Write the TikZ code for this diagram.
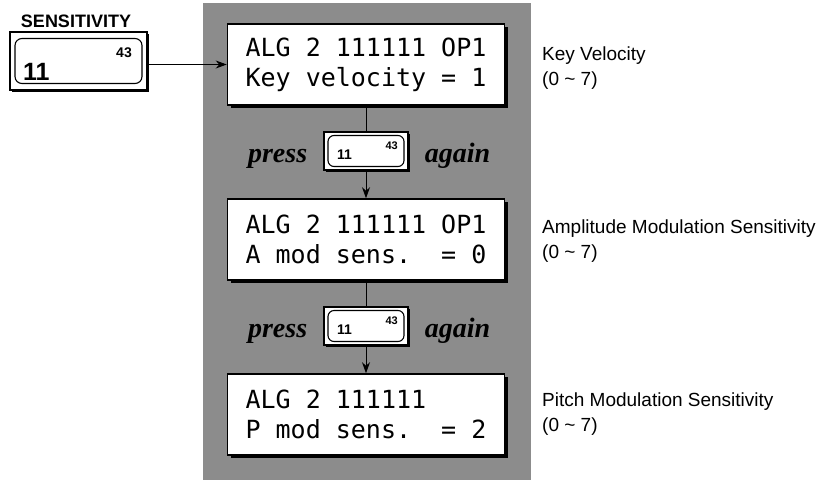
\documentclass[tikz,border=0pt]{standalone}
\usepackage{fontspec}
\setmainfont{Liberation Sans}
\newfontfamily\lcdfont{DejaVu Sans Mono}
\newfontfamily\pressfont{Liberation Serif}
\usetikzlibrary{arrows.meta,shadows,positioning}

\tikzset{
  lcd/.style={draw, line width=1.6pt, fill=white, inner sep=0pt,
    minimum width=277pt, minimum height=81pt, align=left,
    font=\lcdfont\fontsize{25}{30}\selectfont,
    drop shadow={shadow xshift=3pt, shadow yshift=-3pt, opacity=1, fill=black}},
  keyouter/.style={draw, line width=1.3pt, fill=white, inner sep=0pt,
    drop shadow={shadow xshift=1.5pt, shadow yshift=-1.5pt, opacity=1, fill=black}},
  keyinner/.style={draw, line width=1.1pt, rounded corners=7pt, inner sep=0pt},
  pressword/.style={font=\pressfont\bfseries\itshape\fontsize{28}{30}\selectfont, inner sep=0pt},
  info/.style={font=\fontsize{19}{25}\selectfont, align=left, inner sep=0pt, anchor=north west},
  arr/.style={line width=0.9pt, -{Stealth[length=11pt,width=8pt]}}
}

\begin{document}
\begin{tikzpicture}[x=1pt,y=-1pt]
\useasboundingbox (0,0) rectangle (824,480);

% shaded panel
\fill[black!45] (203,3) rectangle (531,480);

% SENSITIVITY key
\node[font=\bfseries\fontsize{18}{20}\selectfont, inner sep=0pt] (senslabel) at (76,21.5) {SENSITIVITY};
\node[keyouter, minimum width=137pt, minimum height=58pt] (sens) at (78.5,61) {};
\node[keyinner, minimum width=127pt, minimum height=45pt] (sensin) at (sens) {};
\node[font=\bfseries\fontsize{14}{14}\selectfont, inner sep=0pt, anchor=east] (senshi) at ([xshift=53.5pt, yshift=8pt]sens.center) {43};
\node[font=\bfseries\fontsize{25}{25}\selectfont, inner sep=0pt, anchor=west] (senslo) at ([xshift=-55.5pt, yshift=-10.5pt]sens.center) {11};

% displays
\node[lcd] (kv) at (366,64.5) {ALG~2~111111~OP1\\Key~velocity~=~1};
\node[lcd] (am) at (366,239.5) {ALG~2~111111~OP1\\A~mod~sens.~~=~0};
\node[lcd] (pm) at (366,414.5) {ALG~2~111111\\P~mod~sens.~~=~2};

% press buttons
\node[keyouter, minimum width=84pt, minimum height=38pt] (btnA) at (366,151) {};
\node[keyinner, minimum width=76pt, minimum height=31pt, rounded corners=6pt] (btnAin) at (btnA) {};
\node[font=\bfseries\fontsize{11}{11}\selectfont, inner sep=0pt, anchor=east] (btnAhi) at ([xshift=32pt, yshift=5pt]btnA.center) {43};
\node[font=\bfseries\fontsize{14}{14}\selectfont, inner sep=0pt, anchor=west] (btnAlo) at ([xshift=-29pt, yshift=-3.5pt]btnA.center) {11};
\node[pressword, anchor=base east] (pressA) at ([xshift=-16pt, yshift=-11pt]btnA.west) {press};
\node[pressword, anchor=base west] (againA) at ([xshift=16pt, yshift=-11pt]btnA.east) {again};

\node[keyouter, minimum width=84pt, minimum height=38pt] (btnB) at (366,326) {};
\node[keyinner, minimum width=76pt, minimum height=31pt, rounded corners=6pt] (btnBin) at (btnB) {};
\node[font=\bfseries\fontsize{11}{11}\selectfont, inner sep=0pt, anchor=east] (btnBhi) at ([xshift=32pt, yshift=5pt]btnB.center) {43};
\node[font=\bfseries\fontsize{14}{14}\selectfont, inner sep=0pt, anchor=west] (btnBlo) at ([xshift=-29pt, yshift=-3.5pt]btnB.center) {11};
\node[pressword, anchor=base east] (pressB) at ([xshift=-16pt, yshift=-11pt]btnB.west) {press};
\node[pressword, anchor=base west] (againB) at ([xshift=16pt, yshift=-11pt]btnB.east) {again};

% connectors
\draw[arr] (sens.east |- kv.west) -- (kv.west);
\draw[line width=0.9pt] (kv.south) -- (btnA.north);
\draw[arr] (btnA.south) -- (am.north);
\draw[line width=0.9pt] (am.south) -- (btnB.north);
\draw[arr] (btnB.south) -- (pm.north);

% descriptions
\node[info] (kvtext) at (542,47) {Key Velocity\\(0 \textasciitilde{} 7)};
\node[info] (amtext) at (542,220) {Amplitude Modulation Sensitivity\\(0 \textasciitilde{} 7)};
\node[info] (pmtext) at (542,393) {Pitch Modulation Sensitivity\\(0 \textasciitilde{} 7)};

\end{tikzpicture}
\end{document}
